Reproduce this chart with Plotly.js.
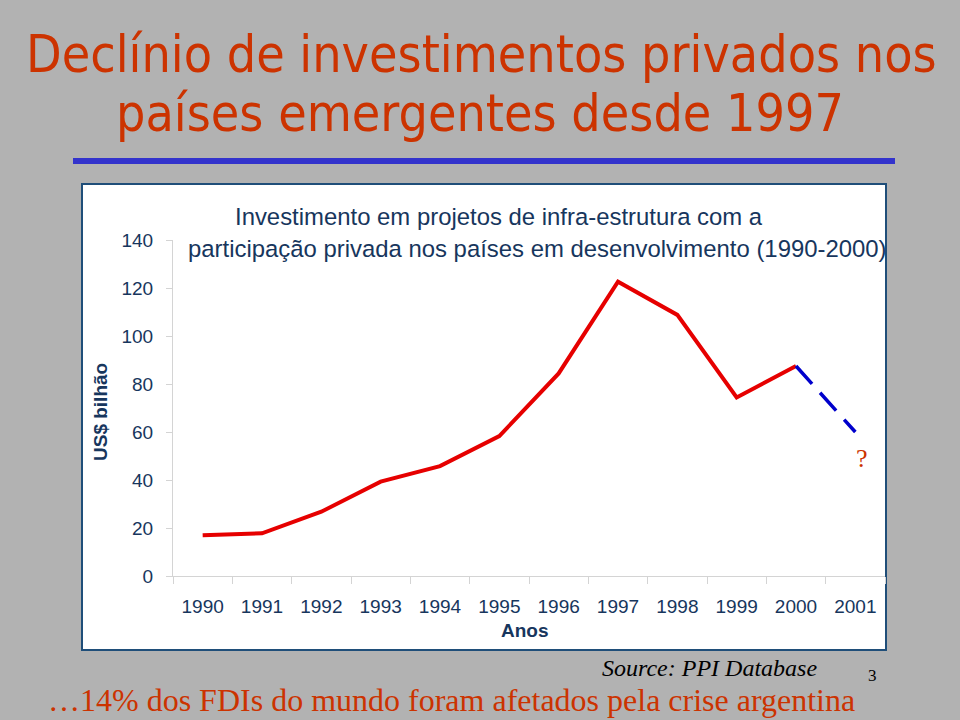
<!DOCTYPE html>
<html>
<head>
<meta charset="utf-8">
<script src="https://cdn.plot.ly/plotly-3.0.1.min.js"></script>
<style>
html,body{margin:0;padding:0;background:#b2b2b2;}
#chart{width:960px;height:720px;}
</style>
</head>
<body>
<div id="chart"></div>
<script>
// ---- data ----
const years = ['1990','1991','1992','1993','1994','1995','1996','1997','1998','1999','2000','2001'];
const investYears = ['1990','1991','1992','1993','1994','1995','1996','1997','1998','1999','2000'];
const investValues = [17.0, 17.8, 26.8, 39.3, 45.8, 58.3, 84.4, 122.6, 108.8, 74.4, 87.5];
const projYears = ['2000','2001'];
const projValues = [87.5, 60.0];
const yTicks = [0, 20, 40, 60, 80, 100, 120, 140];

// ---- geometry helpers (pixel -> paper) ----
const W = 960, H = 720;
const M = {l: 173, r: 75, t: 240, b: 144};
const PW = W - M.l - M.r, PH = H - M.t - M.b;
const px = x => (x - M.l) / PW;
const py = y => (H - M.b - y) / PH;

const navy = '#17365d';
const orange = '#cc3300';

const traces = [
  {
    x: investYears, y: investValues, type: 'scatter', mode: 'lines',
    line: {color: '#e60000', width: 4}, hoverinfo: 'x+y', showlegend: false
  },
  {
    x: projYears, y: projValues, type: 'scatter', mode: 'lines',
    line: {color: '#0000cc', width: 3.5, dash: '24px,12px'}, hoverinfo: 'x+y', showlegend: false
  }
];

const layout = {
  width: W, height: H,
  margin: M,
  paper_bgcolor: '#b2b2b2',
  plot_bgcolor: 'rgba(0,0,0,0)',
  showlegend: false,
  font: {family: 'Liberation Sans, Arial, sans-serif', color: navy},
  xaxis: {
    type: 'category',
    categoryorder: 'array', categoryarray: years,
    range: [-0.5, 11.5],
    tickson: 'boundaries',
    ticks: 'outside', ticklen: 7, tickcolor: '#d4d4d4', tickwidth: 1,
    showline: true, linecolor: '#d4d4d4', linewidth: 1,
    showgrid: false, zeroline: false,
    tickfont: {size: 19, color: navy, family: 'Liberation Sans, Arial, sans-serif'},
    ticklabelstandoff: 13,
    fixedrange: true
  },
  yaxis: {
    range: [0, 140],
    tickvals: yTicks,
    ticks: 'outside', ticklen: 6, tickcolor: '#d4d4d4', tickwidth: 1,
    showline: true, linecolor: '#d4d4d4', linewidth: 1,
    showgrid: false, zeroline: false,
    tickfont: {size: 19, color: navy, family: 'Liberation Sans, Arial, sans-serif'},
    ticklabelstandoff: 9,
    fixedrange: true
  },
  shapes: [
    {type: 'rect', xref: 'paper', yref: 'paper', layer: 'below',
     x0: px(82), x1: px(886), y0: py(650), y1: py(184),
     fillcolor: '#ffffff', line: {color: '#1f4e79', width: 2}},
    {type: 'line', xref: 'paper', yref: 'paper',
     x0: px(73), x1: px(895), y0: py(161), y1: py(161),
     line: {color: '#3333cc', width: 6}}
  ],
  annotations: [
    {text: 'Declínio de investimentos privados nos', xref: 'paper', yref: 'paper',
     x: px(481), y: py(54), xanchor: 'center', yanchor: 'middle', showarrow: false,
     font: {family: 'DejaVu Sans Condensed, DejaVu Sans, sans-serif', size: 51.5, color: orange}},
    {text: 'países emergentes desde 1997', xref: 'paper', yref: 'paper',
     x: px(480), y: py(113), xanchor: 'center', yanchor: 'middle', showarrow: false,
     font: {family: 'DejaVu Sans Condensed, DejaVu Sans, sans-serif', size: 51.5, color: orange}},
    {text: 'Investimento em projetos de infra-estrutura com a', xref: 'paper', yref: 'paper',
     x: px(233), y: py(216), xanchor: 'left', yanchor: 'middle', showarrow: false,
     font: {size: 23.9, color: navy}},
    {text: 'participação privada nos países em desenvolvimento (1990-2000)', xref: 'paper', yref: 'paper',
     x: px(186), y: py(248), xanchor: 'left', yanchor: 'middle', showarrow: false,
     font: {size: 23.9, color: navy}},
    {text: '<b>US$ bilhão</b>', xref: 'paper', yref: 'paper',
     x: px(100), y: py(412), xanchor: 'center', yanchor: 'middle', textangle: -90, showarrow: false,
     font: {size: 19, color: navy}},
    {text: '<b>Anos</b>', xref: 'paper', yref: 'paper',
     x: px(525), y: py(630), xanchor: 'center', yanchor: 'middle', showarrow: false,
     font: {size: 19, color: navy}},
    {text: '?', xref: 'paper', yref: 'paper',
     x: px(862), y: py(458), xanchor: 'center', yanchor: 'middle', showarrow: false,
     font: {family: 'Liberation Serif, Times New Roman, serif', size: 26, color: orange}},
    {text: '<i>Source: PPI Database</i>', xref: 'paper', yref: 'paper',
     x: px(709), y: py(668), xanchor: 'center', yanchor: 'middle', showarrow: false,
     font: {family: 'Liberation Serif, Times New Roman, serif', size: 24, color: '#000000'}},
    {text: '3', xref: 'paper', yref: 'paper',
     x: px(872), y: py(675), xanchor: 'center', yanchor: 'middle', showarrow: false,
     font: {family: 'Liberation Serif, Times New Roman, serif', size: 17, color: '#000000'}},
    {text: '…14% dos FDIs do mundo foram afetados pela crise argentina', xref: 'paper', yref: 'paper',
     x: px(451), y: py(700), xanchor: 'center', yanchor: 'middle', showarrow: false,
     font: {family: 'Liberation Serif, Times New Roman, serif', size: 32, color: orange}}
  ]
};

Plotly.newPlot('chart', traces, layout, {displayModeBar: false, staticPlot: false, responsive: false});
</script>
</body>
</html>
